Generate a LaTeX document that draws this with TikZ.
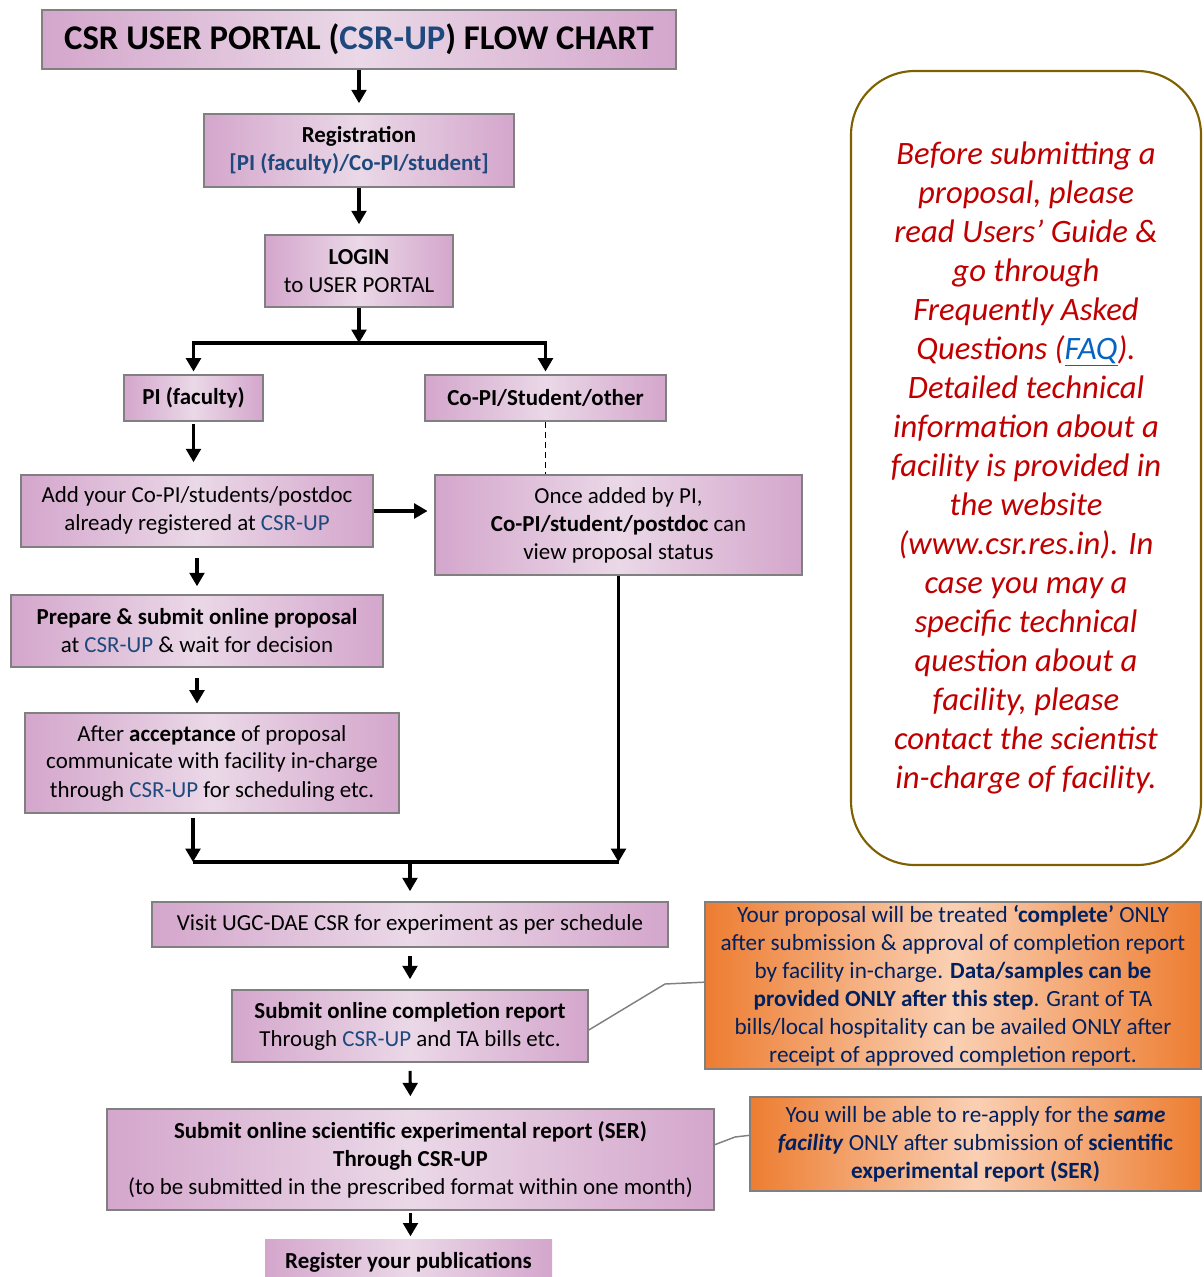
\documentclass[tikz,border=0pt]{standalone}
\usepackage{fontspec}
\setmainfont{Carlito}
\usetikzlibrary{arrows.meta,calc}
\definecolor{pedge}{RGB}{212,166,204}
\definecolor{pmid}{RGB}{234,216,231}
\definecolor{bord}{RGB}{128,128,128}
\definecolor{oedge}{RGB}{237,125,49}
\definecolor{omid}{RGB}{250,208,180}
\definecolor{navy}{RGB}{0,32,96}
\definecolor{csrblue}{RGB}{31,73,125}
\definecolor{redtxt}{RGB}{192,0,0}
\definecolor{olive}{RGB}{127,96,0}
\definecolor{linkblue}{RGB}{5,99,193}
\newcommand\csrup{\textcolor{csrblue}{CSR-UP}}
\begin{document}
\begin{tikzpicture}[x=0.75pt,y=-0.75pt,
  pbox/.style={draw=bord, line width=1.2pt, left color=pedge, right color=pedge, middle color=pmid,
    align=center, inner sep=0pt, font=\fontsize{17.2}{21}\selectfont},
  sz/.style 2 args={minimum width=#1*0.75pt, minimum height=#2*0.75pt},
  obox/.style={draw=bord, line width=1.2pt, left color=oedge, right color=oedge, middle color=omid,
    align=center, inner sep=0pt, text=navy, font=\fontsize{17.4}{21}\selectfont},
  arr/.style={line width=2.3pt, -{Triangle[length=10pt,width=11pt]}},
  plain/.style={line width=2.3pt},
  callout/.style={draw=bord, line width=1.1pt},
  dashline/.style={line width=1.3pt, dashed, dash pattern=on 4.5pt off 3pt}
]
\useasboundingbox (0,0) rectangle (1203,1277);

% title
\node[pbox, sz={634}{59}, font=\fontsize{26}{30}\selectfont\bfseries] (title) at (359,39.5)
  {CSR USER PORTAL (\csrup) FLOW CHART};
\node[pbox, sz={310}{73}, font=\fontsize{17.2}{21}\selectfont\bfseries] (reg) at (359,150.5)
  {Registration\\\textcolor{csrblue}{[PI (faculty)/Co-PI/student]}};
\node[pbox, sz={188}{72}] (login) at (359,271) {\textbf{LOGIN}\\to USER PORTAL};
\node[pbox, sz={139}{46}, font=\fontsize{17.2}{21}\selectfont\bfseries] (pi) at (193.5,398) {PI (faculty)};
\node[pbox, sz={241}{46}, font=\fontsize{17.2}{21}\selectfont\bfseries] (co) at (545.5,398) {Co-PI/Student/other};
\node[pbox, sz={352}{72}] (add) at (197,511) {Add your Co-PI/students/postdoc\\already registered at \csrup};
\node[pbox, sz={367}{100}] (once) at (618.5,525) {Once added by PI,\\\textbf{Co-PI/student/postdoc} can\\view proposal status};
\node[pbox, sz={372}{72}] (prep) at (197,631) {\textbf{Prepare \& submit online proposal}\\at \csrup{} \& wait for decision};
\node[pbox, sz={374}{100}] (after) at (212,763) {After \textbf{acceptance} of proposal\\communicate with facility in-charge\\through \csrup{} for scheduling etc.};
\node[pbox, sz={516}{45}] (visit) at (410,924.5) {Visit UGC-DAE CSR for experiment as per schedule};
\node[pbox, sz={356}{72}] (sub) at (410,1026) {\textbf{Submit online completion report}\\Through \csrup{} and TA bills etc.};
\node[pbox, sz={607}{101}] (ser) at (410.5,1159.5) {\textbf{Submit online scientific experimental report (SER)}\\\textbf{Through CSR-UP}\\(to be submitted in the prescribed format within one month)};
\node[pbox, draw=none, sz={287}{46}, font=\fontsize{17.2}{21}\selectfont\bfseries, anchor=north] (pub) at (408.5,1239) {Register your publications};

% orange notes
\node[obox, sz={496}{167}] (o1) at (953,985.5)
  {Your proposal will be treated \textbf{‘complete’} ONLY\\after submission \& approval of completion report\\by facility in-charge. \textbf{Data/samples can be}\\\textbf{provided ONLY after this step}. Grant of TA\\bills/local hospitality can be availed ONLY after\\receipt of approved completion report.};
\node[obox, sz={451}{94}] (o2) at (975.5,1144)
  {You will be able to re-apply for the \textbf{\textit{same}}\\\textbf{\textit{facility}} ONLY after submission of \textbf{scientific}\\\textbf{experimental report (SER)}};

% red note
\node[draw=olive, line width=1.6pt, fill=white, rounded corners=48pt, sz={350}{794}, align=center, inner sep=0pt,
  text=redtxt, font=\fontsize{24.5}{29.25}\selectfont\itshape] (faq) at (1026,468)
  {Before submitting a\\proposal, please\\read Users’ Guide \&\\go through\\Frequently Asked\\Questions (\textcolor{linkblue}{\underline{FAQ}}).\\Detailed technical\\information about a\\facility is provided in\\the website\\(www.csr.res.in). In\\case you may a\\specific technical\\question about a\\facility, please\\contact the scientist\\in-charge of facility.};

% connectors
\coordinate (j1) at (358,343);
\coordinate (j2) at (193,862);
\coordinate (j3) at (618.5,862);
\coordinate (j4) at (410,862);
\draw[arr, shorten >=7.5pt] (title.south) -- (reg.north);
\draw[arr, shorten >=7.5pt] (reg.south) -- (login.north);
\draw[arr] (login.south) -- (login.south |- j1);
\draw[arr, shorten >=2pt] (j1) -| (pi.north);
\draw[arr, shorten >=2pt] (j1) -| (co.north);
\draw[arr, shorten <=2pt, shorten >=9pt] (pi.south) -- (pi.south |- add.north);
\draw[dashline] (co.south) -- (co.south |- once.north);
\draw[arr, shorten >=5pt] (add.east) -- (add.east -| once.west);
\draw[arr, shorten <=7.5pt, shorten >=6pt] (add.south) -- (add.south |- prep.north);
\draw[arr, shorten <=7.5pt, shorten >=6.5pt] (prep.south) -- (prep.south |- after.north);
\draw[arr, shorten <=3.5pt] (j2 |- after.south) -- (j2);
\draw[arr] (once.south) -- (j3);
\draw[plain] (j2) -- (j3);
\draw[arr, shorten >=7.5pt] (j4) -- (visit.north);
\draw[arr, shorten <=6pt, shorten >=7.5pt] (visit.south) -- (sub.north);
\draw[arr, shorten <=6pt, shorten >=9pt] (sub.south) -- (ser.north);
\draw[arr, shorten <=1.5pt, shorten >=2pt] (ser.south) -- (ser.south |- pub.north);

\coordinate (k1) at (665,984);
\coordinate (c1) at (714,1145);
\coordinate (k2) at (735,1137);
\draw[callout] ([yshift=-3pt]sub.east) -- (k1) -- ([yshift=2.5pt]o1.west);
\draw[callout] (c1) -- (k2) -- ([yshift=6.5pt]o2.west);
\end{tikzpicture}
\end{document}
